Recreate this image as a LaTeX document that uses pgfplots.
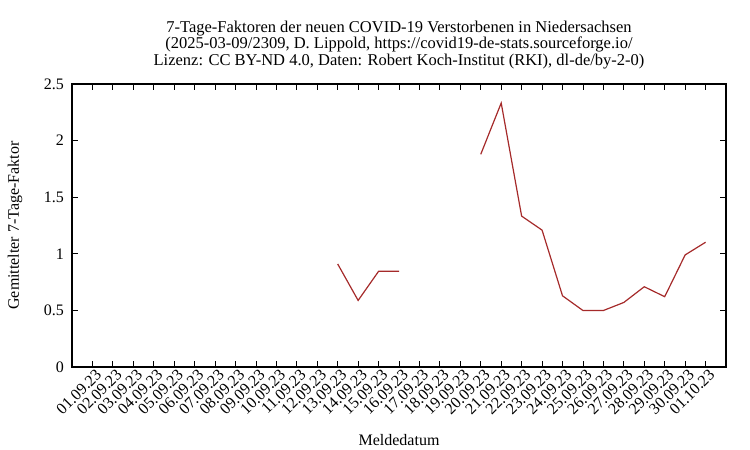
\documentclass[border=0pt]{standalone}
\usepackage{fontspec}
\setmainfont{Liberation Serif}
\usepackage{pgfplots}
\pgfplotsset{compat=1.18}

\definecolor{linebrown}{HTML}{A52A2A}

% Gemittelter 7-Tage-Faktor, x = Tag ab 01.09.23 (0) bis 01.10.23 (30)
\pgfplotstableread{
x   f
0   nan
1   nan
2   nan
3   nan
4   nan
5   nan
6   nan
7   nan
8   nan
9   nan
10  nan
11  nan
12  0.910
13  0.588
14  0.845
15  0.845
16  nan
17  nan
18  nan
19  1.879
20  2.332
21  1.333
22  1.209
23  0.629
24  0.499
25  0.499
26  0.570
27  0.709
28  0.621
29  0.990
30  1.102
}\faktoren

\begin{document}
\fontsize{16bp}{16.5bp}\selectfont
\begin{tikzpicture}[x=1bp,y=1bp]
\useasboundingbox (0,0) rectangle (750,450);

\node[align=center, font=\fontsize{16.5bp}{16.5bp}\selectfont] at (399,405)
  {7-Tage-Faktoren der neuen COVID-19 Verstorbenen in Niedersachsen\\
   (2025-03-09/2309, D. Lippold, https://covid19-de-stats.sourceforge.io/\\
   Lizenz: CC BY-ND 4.0, Daten: Robert Koch-Institut (RKI), dl-de/by-2-0)};

\begin{axis}[
  at = {(72bp,83bp)},
  anchor = south west,
  scale only axis,
  width = 654bp,
  height = 283bp,
  xmin = -1, xmax = 31,
  ymin = 0, ymax = 2.5,
  xtick = {0,...,30},
  xticklabels = {01.09.23,02.09.23,03.09.23,04.09.23,05.09.23,06.09.23,
    07.09.23,08.09.23,09.09.23,10.09.23,11.09.23,12.09.23,13.09.23,
    14.09.23,15.09.23,16.09.23,17.09.23,18.09.23,19.09.23,20.09.23,
    21.09.23,22.09.23,23.09.23,24.09.23,25.09.23,26.09.23,27.09.23,
    28.09.23,29.09.23,30.09.23,01.10.23},
  ytick = {0,0.5,...,2.5},
  tick align = inside,
  major tick length = 6bp,
  axis line style = {line width=1.1bp, black},
  tick style = {line width=0.8bp, black},
  xticklabel style = {rotate=45, anchor=east, inner sep=0bp, yshift=-8bp, xshift=1bp},
  yticklabel style = {/pgf/number format/fixed, inner sep=0bp, xshift=-8bp},
  /pgf/number format/assume math mode = true,
  ticklabel style = {font=\fontsize{16bp}{16.5bp}\selectfont},
  xlabel = {Meldedatum},
  ylabel = {Gemittelter 7-Tage-Faktor},
  label style = {font=\fontsize{16bp}{16.5bp}\selectfont},
  xlabel style = {at={(axis description cs:0.5,-0.258)}, anchor=center},
  ylabel style = {at={(axis description cs:-0.087,0.5)}, anchor=center},
  unbounded coords = jump,
  clip = false,
]
\addplot[linebrown, line width=1.2bp, mark=none] table[x=x, y=f] {\faktoren};
\end{axis}
\end{tikzpicture}
\end{document}
